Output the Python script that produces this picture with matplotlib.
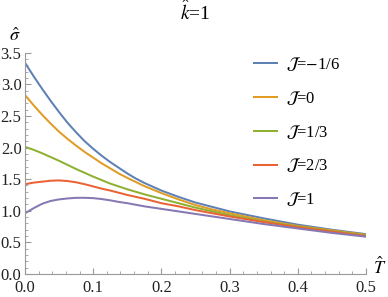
import matplotlib
matplotlib.use("Agg")
import matplotlib.pyplot as plt
from matplotlib.ticker import MultipleLocator, FormatStrFormatter

plt.rcParams['font.family'] = ['Liberation Serif', 'DejaVu Serif']
plt.rcParams['mathtext.fontset'] = 'stix'

T = [0.0, 0.0125, 0.025, 0.0375, 0.05, 0.0625, 0.075, 0.0875, 0.1, 0.1125, 0.125, 0.1375, 0.15,
     0.1625, 0.175, 0.1875, 0.2, 0.2125, 0.225, 0.2375, 0.25, 0.275, 0.3, 0.325, 0.35, 0.375,
     0.4, 0.425, 0.45, 0.475, 0.5]
sigma_m16 = [3.34, 3.13, 2.93, 2.74, 2.56, 2.39, 2.24, 2.10, 1.98, 1.87, 1.77, 1.68, 1.59,
             1.51, 1.44, 1.38, 1.32, 1.27, 1.22, 1.175, 1.13, 1.06, 0.99, 0.935, 0.88, 0.83,
             0.78, 0.74, 0.70, 0.665, 0.63]
sigma_0 = [2.83, 2.67, 2.52, 2.38, 2.25, 2.135, 2.03, 1.93, 1.84, 1.75, 1.67, 1.59, 1.52,
           1.455, 1.39, 1.335, 1.28, 1.23, 1.18, 1.135, 1.09, 1.02, 0.96, 0.905, 0.85, 0.805,
           0.76, 0.725, 0.69, 0.655, 0.62]
sigma_13 = [2.01, 1.965, 1.91, 1.85, 1.79, 1.725, 1.66, 1.60, 1.54, 1.485, 1.43, 1.385, 1.34,
            1.30, 1.26, 1.225, 1.19, 1.155, 1.12, 1.085, 1.05, 0.99, 0.93, 0.88, 0.83, 0.79,
            0.75, 0.715, 0.68, 0.645, 0.61]
sigma_23 = [1.42, 1.445, 1.46, 1.475, 1.48, 1.47, 1.45, 1.42, 1.385, 1.35, 1.32, 1.285, 1.25,
            1.22, 1.19, 1.155, 1.12, 1.095, 1.07, 1.04, 1.01, 0.96, 0.91, 0.865, 0.82, 0.78,
            0.74, 0.705, 0.67, 0.635, 0.60]
sigma_1 = [0.96, 1.04, 1.11, 1.155, 1.18, 1.195, 1.205, 1.205, 1.20, 1.185, 1.165, 1.14, 1.12,
           1.095, 1.07, 1.05, 1.03, 1.01, 0.99, 0.97, 0.95, 0.91, 0.87, 0.83, 0.79, 0.755,
           0.72, 0.685, 0.65, 0.62, 0.59]

labels = [r'$\mathcal{J}$=$-$1/6', r'$\mathcal{J}$=0', r'$\mathcal{J}$=1/3', r'$\mathcal{J}$=2/3', r'$\mathcal{J}$=1']
colors = ['#5E81B5', '#E19C24', '#8FB032', '#EB6235', '#8778B3']
series = [sigma_m16, sigma_0, sigma_13, sigma_23, sigma_1]

W, H = 388, 297
fig = plt.figure(figsize=(W/100, H/100), dpi=100)
ax = fig.add_axes([25/W, 23/H, 341/W, 221.3/H])

for s, c, l in zip(series, colors, labels):
    ax.plot(T, s, color=c, lw=1.45, label=l, solid_joinstyle='round')

ax.set_xlim(0, 0.5)
ax.set_ylim(0, 3.5)
for sp in ['top', 'right']:
    ax.spines[sp].set_visible(False)
for sp in ['left', 'bottom']:
    ax.spines[sp].set_color('#9a9a9a')
    ax.spines[sp].set_linewidth(0.8)

ax.xaxis.set_major_locator(MultipleLocator(0.1))
ax.xaxis.set_minor_locator(MultipleLocator(0.02))
ax.yaxis.set_major_locator(MultipleLocator(0.5))
ax.yaxis.set_minor_locator(MultipleLocator(0.1))
ax.xaxis.set_major_formatter(FormatStrFormatter('%.1f'))
ax.yaxis.set_major_formatter(FormatStrFormatter('%.1f'))
ax.tick_params(which='major', direction='in', length=4, width=0.8, color='#9a9a9a',
               labelsize=12, labelcolor='#222222')
ax.tick_params(axis='x', which='major', pad=4.5)
ax.tick_params(axis='y', which='major', pad=2.5)
ax.tick_params(which='minor', direction='in', length=2.2, width=0.6, color='#9a9a9a')

fig.text(195/W, 1 - 12/H, r'$\hat{k}$=1', ha='center', va='center', fontsize=14)
fig.text(15/W, 1 - 36/H, r'$\hat{\sigma}$', ha='center', va='center', fontsize=13)
fig.text(380/W, 1 - 267/H, r'$\hat{T}$', ha='center', va='center', fontsize=13)

ax.legend(loc='upper left', bbox_to_anchor=(254/W, 1 - 55/H), bbox_transform=fig.transFigure,
          frameon=False, fontsize=12, handlelength=1.4, handletextpad=0.55,
          labelspacing=0.95, borderpad=0, borderaxespad=0)

fig.savefig('out.png', dpi=100)
